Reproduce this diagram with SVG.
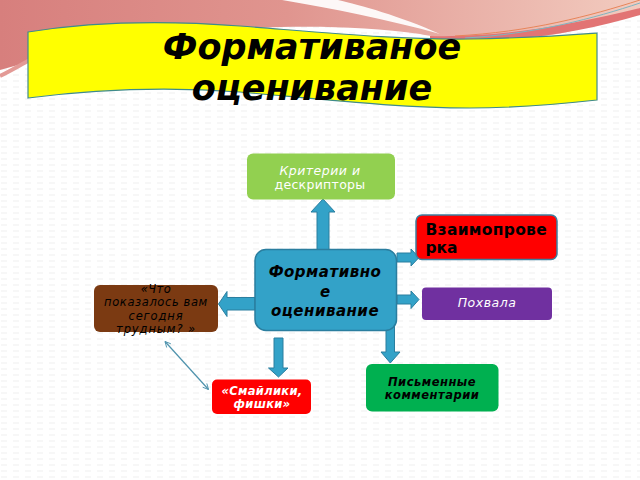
<svg xmlns="http://www.w3.org/2000/svg" width="640" height="480" viewBox="0 0 640 480">
  <defs>
    <linearGradient id="pinkL" x1="0" y1="0" x2="1" y2="0">
      <stop offset="0" stop-color="#d77f7d"/>
      <stop offset="0.45" stop-color="#e0958f"/>
      <stop offset="1" stop-color="#f2cbbf"/>
    </linearGradient>
    <pattern id="tex" width="12" height="6" patternUnits="userSpaceOnUse">
      <rect width="12" height="6" fill="#ffffff"/>
      <path d="M1,3 H7" stroke="#f0f0f0" stroke-width="1"/>
    </pattern>
    <marker id="vhead" viewBox="0 0 10 10" refX="9" refY="5" markerWidth="7" markerHeight="7" orient="auto-start-reverse" markerUnits="userSpaceOnUse">
      <path d="M1,1 L9,5 L1,9" fill="none" stroke="#4f93ad" stroke-width="1.3"/>
    </marker>
    <style>
      .blk { fill: #33a2c8; stroke: #2a7e9f; stroke-width: 1; }
      .t { font-family: "DejaVu Sans", "Noto Sans", sans-serif; }
      .bi { font-weight: bold; font-style: italic; }
      .it { font-style: italic; }
    </style>
  </defs>

  <!-- background -->
  <rect width="640" height="480" fill="url(#tex)"/>
  <path d="M0,0 H640 V8 C600,25 560,38 500,40 C460,41 440,38 420,34 C300,18 150,28 0,70 Z" fill="url(#pinkL)"/>
  <path d="M282,0 C330,8 390,20 440,34 C400,16 360,5 338,0 Z" fill="#ffffff" opacity="0.92"/>
  <path d="M430,36 C500,38 570,25 640,8 L640,15 C580,33 510,44 430,40 Z" fill="#e27474"/>
  <path d="M455,36 C530,32 590,16 640,0" fill="none" stroke="#e8855a" stroke-width="1"/>
  <path d="M465,38 C535,34 595,18 640,3" fill="none" stroke="#7fb5c0" stroke-width="1"/>
  <path d="M0,76 C12,70 22,64 30,60" fill="none" stroke="#e39a96" stroke-width="4"/>

  <!-- title banner -->
  <g id="title">
    <path d="M28,32 C90,22 160,20 240,26 C330,33 400,40 470,39 C530,38 570,35 597,33 L597,100 C560,104 520,108 470,108 C400,108 330,100 240,92 C160,86 90,90 28,98 Z" fill="#ffff00" stroke="#3f8b8b" stroke-width="1.2"/>
    <text class="t bi" x="312" y="59" font-size="35" text-anchor="middle" fill="#000">Формативаное</text>
    <text class="t bi" x="312" y="100" font-size="35" text-anchor="middle" fill="#000">оценивание</text>
  </g>

  <!-- connectors -->
  <g id="connectors">
    <polygon class="blk" points="317,250 317,212 311,212 323,199 335,212 329,212 329,250"/>
    <polygon class="blk" points="255,297.5 227,297.5 227,291.5 218.5,304 227,316.5 227,310 255,310"/>
    <polygon class="blk" points="397,253 411,253 411,249 419,257.5 411,266 411,262 397,262"/>
    <polygon class="blk" points="397,295 411,295 411,291 419,299.5 411,308.5 411,304 397,304"/>
    <polygon class="blk" points="274,338 283,338 283,368 288,368 278.5,377 268.5,368 274,368"/>
    <polygon class="blk" points="386,322 394.5,322 394.5,352 400,352 390.3,363 381,352 386,352"/>
    <line x1="165" y1="341.5" x2="208.5" y2="389.5" stroke="#4f93ad" stroke-width="1.2" marker-start="url(#vhead)" marker-end="url(#vhead)"/>
  </g>

  <g id="criteria">
    <rect x="247" y="153.5" width="148" height="46" rx="6" fill="#92d050"/>
    <text class="t it" x="320" y="175" font-size="12.5" text-anchor="middle" fill="#ffffff" letter-spacing="0.5">Критерии и</text>
    <text class="t" x="320" y="189" font-size="12.5" text-anchor="middle" fill="#ffffff" letter-spacing="0.3">дескрипторы</text>
  </g>

  <g id="center">
    <rect x="255" y="249.5" width="141.5" height="81" rx="11" fill="#33a2c8" stroke="#2a7e9f" stroke-width="1.5"/>
    <text class="t bi" x="325" y="276.5" font-size="15" text-anchor="middle" fill="#000" letter-spacing="0.5">Формативно</text>
    <text class="t bi" x="325" y="296.5" font-size="15" text-anchor="middle" fill="#000">е</text>
    <text class="t bi" x="325" y="315.5" font-size="15" text-anchor="middle" fill="#000" letter-spacing="0.5">оценивание</text>
  </g>

  <g id="peer">
    <rect x="416" y="215" width="141" height="44.5" rx="6" fill="#ff0000" stroke="#3c7f9e" stroke-width="1.5"/>
    <text class="t" x="425.5" y="235" font-size="15.5" font-weight="bold" fill="#000" letter-spacing="0.3">Взаимопрове</text>
    <text class="t" x="425.5" y="253" font-size="15.5" font-weight="bold" fill="#000">рка</text>
  </g>

  <g id="praise">
    <rect x="422" y="287.5" width="130" height="32.5" rx="4" fill="#7030a0"/>
    <text class="t it" x="487" y="307" font-size="12.5" text-anchor="middle" fill="#ffffff" letter-spacing="0.5">Похвала</text>
  </g>

  <g id="question">
    <rect x="94" y="285" width="124" height="47" rx="6" fill="#7b3a12"/>
    <text class="t it" x="156" y="292.5" font-size="11.5" text-anchor="middle" fill="#000" letter-spacing="0.5">«Что</text>
    <text class="t it" x="156" y="306" font-size="11.5" text-anchor="middle" fill="#000" letter-spacing="0.6">показалось вам</text>
    <text class="t it" x="156" y="319.5" font-size="11.5" text-anchor="middle" fill="#000" letter-spacing="0.9">сегодня</text>
    <text class="t it" x="156" y="333" font-size="11.5" text-anchor="middle" fill="#000" letter-spacing="0.9">трудным? »</text>
  </g>

  <g id="smileys">
    <rect x="212" y="379.5" width="99" height="34.5" rx="5" fill="#ff0000"/>
    <text class="t bi" x="262" y="395" font-size="11.5" text-anchor="middle" fill="#ffffff" letter-spacing="0.3">«Смайлики,</text>
    <text class="t bi" x="262" y="408" font-size="11.5" text-anchor="middle" fill="#ffffff" letter-spacing="0.3">фишки»</text>
  </g>

  <g id="written">
    <rect x="366" y="364" width="132.5" height="47.5" rx="6" fill="#00b050"/>
    <text class="t bi" x="432" y="386" font-size="11.5" text-anchor="middle" fill="#000" letter-spacing="0.5">Письменные</text>
    <text class="t bi" x="432" y="399" font-size="11.5" text-anchor="middle" fill="#000" letter-spacing="0.5">комментарии</text>
  </g>
</svg>
